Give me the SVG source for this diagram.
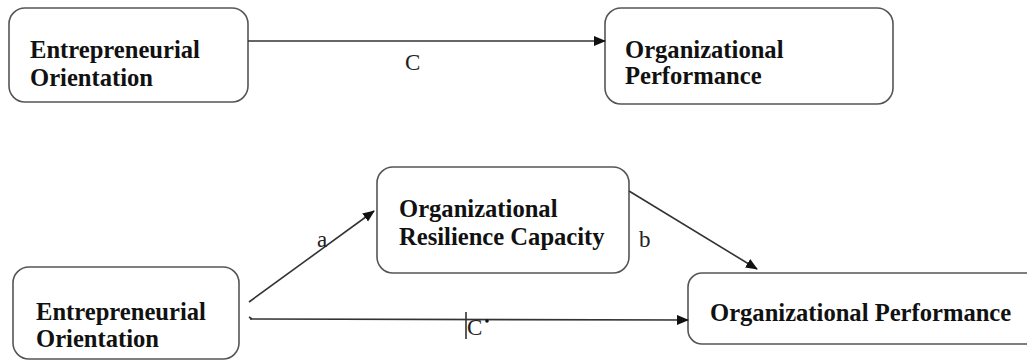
<svg xmlns="http://www.w3.org/2000/svg" width="1027" height="360" viewBox="0 0 1027 360">
<style>
.box{fill:#fff;stroke:#555;stroke-width:1.6}
.t{font-family:'Liberation Serif','DejaVu Serif',serif;font-weight:bold;font-size:24.6px;fill:#111}
.l{font-family:'Liberation Serif','DejaVu Serif',serif;font-size:23px;fill:#222}
.c{stroke:#333;stroke-width:1.6;fill:none}
</style>
<defs>
<marker id="ah" markerWidth="12" markerHeight="10" refX="11" refY="5" orient="auto" markerUnits="userSpaceOnUse">
<path d="M0,0 L12,5 L0,10 Z" fill="#111"/>
</marker>
</defs>
<g id="eo1">
<rect class="box" x="9" y="8" width="239" height="94" rx="16"/>
<text class="t" x="30" y="58">Entrepreneurial</text>
<text class="t" x="30" y="86">Orientation</text>
</g>
<g id="op1">
<rect class="box" x="605" y="8" width="288" height="96" rx="16"/>
<text class="t" x="625" y="58">Organizational</text>
<text class="t" x="625" y="84">Performance</text>
</g>
<g id="orc">
<rect class="box" x="377" y="167" width="252" height="106" rx="16"/>
<text class="t" x="399" y="217">Organizational</text>
<text class="t" x="399" y="245">Resilience Capacity</text>
</g>
<g id="eo2">
<rect class="box" x="13" y="267" width="226" height="92" rx="16"/>
<text class="t" x="36" y="320">Entrepreneurial</text>
<text class="t" x="36" y="347">Orientation</text>
</g>
<g id="op2">
<rect class="box" x="688" y="273" width="360" height="71" rx="14"/>
<text class="t" x="710" y="321">Organizational Performance</text>
</g>
<g id="connectors">
<line class="c" x1="248" y1="41" x2="605" y2="41" marker-end="url(#ah)"/>
<text class="l" x="405" y="70">C</text>
<line class="c" x1="249" y1="302" x2="374" y2="211" marker-end="url(#ah)"/>
<text class="l" x="317" y="247">a</text>
<line class="c" x1="629" y1="191" x2="757" y2="269" marker-end="url(#ah)"/>
<text class="l" x="639" y="247">b</text>
<line class="c" x1="250" y1="319" x2="688" y2="320" marker-end="url(#ah)"/>
<line class="c" x1="249" y1="317" x2="252" y2="319"/>
<line class="c" x1="466" y1="312" x2="466" y2="339"/>
<text class="l" x="467" y="335">C</text>
<circle cx="487" cy="321" r="1.8" fill="#111"/>
</g>
</svg>
